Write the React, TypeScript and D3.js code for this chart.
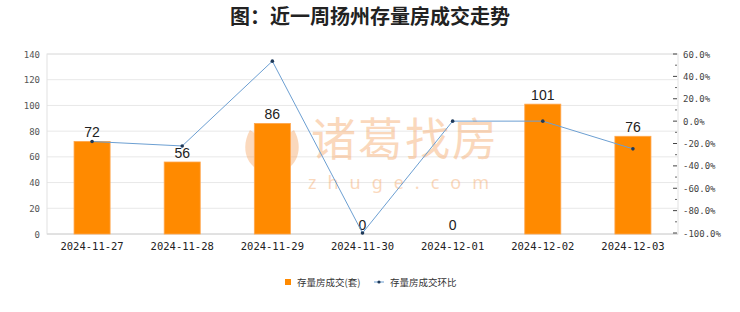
import React from "react";
import * as d3 from "d3";

const categories = ["2024-11-27", "2024-11-28", "2024-11-29", "2024-11-30", "2024-12-01", "2024-12-02", "2024-12-03"];
const volumes = [72, 56, 86, 0, 0, 101, 76];
const changes = [-18.2, -22.2, 53.6, -100, 0, 0, -24.8];
const leftTicks = [0, 20, 40, 60, 80, 100, 120, 140];
const rightTicks = [60, 40, 20, 0, -20, -40, -60, -80, -100];
const title = "图：近一周扬州存量房成交走势";
const legendBar = "存量房成交(套)";
const legendLine = "存量房成交环比";

const W = 740;
const H = 312;
const M = { left: 47, right: 678, top: 54, bottom: 234 };
const mono = "'DejaVu Sans Mono', monospace";
const cjk = "'Noto Sans CJK SC', sans-serif";

export default function App() {
  const x = d3.scaleBand<string>().domain(categories).range([M.left, M.right]).paddingInner(0.6).paddingOuter(0.3);
  const xc = d3.scalePoint<string>().domain(categories).range([M.left, M.right]).padding(0.5);
  const yL = d3.scaleLinear().domain([0, 140]).range([M.bottom, M.top]);
  const yR = d3.scaleLinear().domain([-100, 60]).range([M.bottom - 1, M.top]);
  const line = d3.line<number>().x((_, i) => xc(categories[i]) as number).y((d) => yR(d));
  const minor = d3.range(-90, 60, 20);

  return (
    <svg width={W} height={H} style={{ position: "absolute", left: 0, top: 0, background: "#fff" }}>
      <rect width={W} height={H} fill="#fff" />
      <text x={370} y={24} textAnchor="middle" fontFamily={cjk} fontSize={20} fontWeight={600} fill="#222">{title}</text>

      {/* grid */}
      {leftTicks.map((t) => (
        <line key={"g" + t} x1={M.left} x2={M.right} y1={yL(t)} y2={yL(t)} stroke="#e8e8e8" strokeWidth={1} />
      ))}
      <rect x={M.left} y={M.top} width={M.right - M.left} height={M.bottom - M.top} fill="none" stroke="#e2e2e2" />
      <line x1={M.left} x2={M.right} y1={M.bottom} y2={M.bottom} stroke="#d8d8d8" />

      {/* watermark */}
      <g opacity={0.4} fill="#f5a05a">
        <path d="M272 124 C262 138 260 158 272 172 C284 158 282 138 272 124 Z" />
        <path d="M250 130 C240 148 246 168 266 173 C256 160 252 146 256 134 Z" />
        <path d="M294 130 C304 148 298 168 278 173 C288 160 292 146 288 134 Z" />
        <text x={405} y={156} textAnchor="middle" fontFamily={cjk} fontSize={45} letterSpacing={2}>诸葛找房</text>
        <text x={404} y={189} textAnchor="middle" fontFamily="'Noto Sans', sans-serif" fontSize={18} letterSpacing={11}>zhuge.com</text>
      </g>

      {/* left axis labels */}
      {leftTicks.map((t) => (
        <text key={"l" + t} x={40} y={yL(t) + 3.5} textAnchor="end" fontFamily={mono} fontSize={9} fill="#555">{t}</text>
      ))}
      {/* right axis ticks and labels */}
      {rightTicks.map((t) => (
        <g key={"r" + t}>
          <line x1={M.right - 5} x2={M.right - 1} y1={yR(t)} y2={yR(t)} stroke="#444" />
          <text x={683} y={yR(t) + 3.5} fontFamily={mono} fontSize={9} fill="#444">{t.toFixed(1) + "%"}</text>
        </g>
      ))}
      {minor.map((t) => (
        <line key={"m" + t} x1={M.right - 3} x2={M.right - 1} y1={yR(t)} y2={yR(t)} stroke="#666" />
      ))}

      {/* bars */}
      {categories.map((c, i) => (
        <g key={"b" + c}>
          {volumes[i] > 0 && (
            <rect x={x(c)} y={yL(volumes[i])} width={x.bandwidth()} height={M.bottom - yL(volumes[i])} fill="#ff8a00" stroke="#ffa64d" strokeWidth={0.8} />
          )}
          <text x={(x(c) as number) + x.bandwidth() / 2} y={yL(volumes[i]) - 4} textAnchor="middle" fontFamily="'Liberation Sans', sans-serif" fontSize={14} fill="#222">{volumes[i]}</text>
        </g>
      ))}

      {/* line */}
      <path d={line(changes) || ""} fill="none" stroke="#6c9fd2" strokeWidth={1} />
      {changes.map((v, i) => (
        <circle key={"p" + i} cx={xc(categories[i])} cy={yR(v)} r={1.8} fill="#1f3a5a" />
      ))}

      {/* x labels */}
      {categories.map((c) => (
        <text key={"x" + c} x={xc(c)} y={250} textAnchor="middle" fontFamily={mono} fontSize={10.5} fill="#222">{c}</text>
      ))}

      {/* legend */}
      <rect x={285} y={279} width={6} height={6} fill="#ff8a00" />
      <text x={297} y={285.5} fontFamily={cjk} fontSize={9.5} fill="#333">{legendBar}</text>
      <line x1={374} x2={384} y1={282} y2={282} stroke="#6c9fd2" />
      <circle cx={379} cy={282} r={1.6} fill="#1f3a5a" />
      <text x={390} y={285.5} fontFamily={cjk} fontSize={9.5} fill="#333">{legendLine}</text>
    </svg>
  );
}
